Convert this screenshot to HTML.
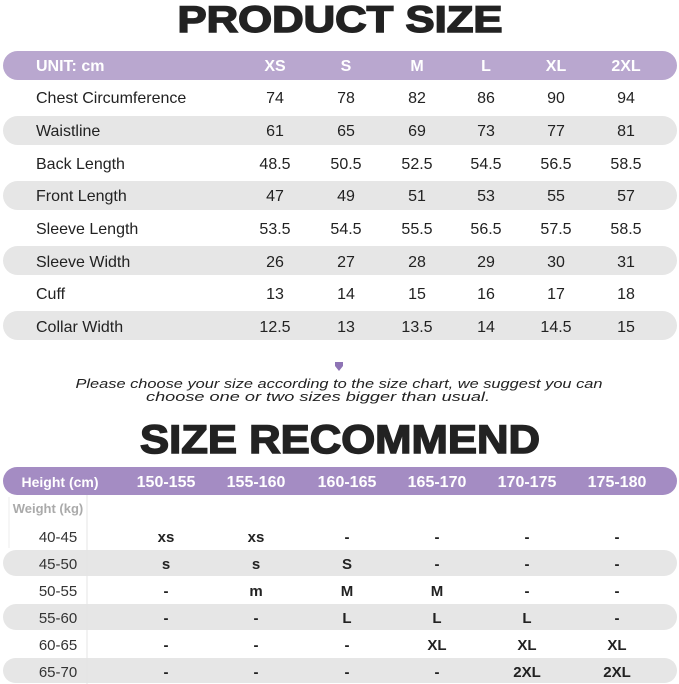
<!DOCTYPE html>
<html><head><style>
html,body{margin:0;padding:0;background:#fff;}
svg{display:block;font-family:"Liberation Sans",sans-serif;}
</style></head><body>
<svg width="679" height="684" viewBox="0 0 679 684" xmlns="http://www.w3.org/2000/svg">
<text x="340" y="32" text-anchor="middle" font-size="37" font-weight="bold" fill="#222" textLength="325" lengthAdjust="spacingAndGlyphs" stroke="#222" stroke-width="1.5">PRODUCT SIZE</text>
<rect x="3" y="51" width="674" height="29" rx="14.5" fill="#b9a7cf"/>
<rect x="3" y="116" width="674" height="29" rx="14.5" fill="#e6e6e6"/>
<rect x="3" y="181" width="674" height="29" rx="14.5" fill="#e6e6e6"/>
<rect x="3" y="246" width="674" height="29" rx="14.5" fill="#e6e6e6"/>
<rect x="3" y="311" width="674" height="29" rx="14.5" fill="#e6e6e6"/>
<g font-size="16" fill="#222">
<g font-weight="bold" fill="#fff"><text x="36" y="71">UNIT: cm</text>
<g text-anchor="middle"><text x="275" y="71">XS</text><text x="346" y="71">S</text><text x="417" y="71">M</text><text x="486" y="71">L</text><text x="556" y="71">XL</text><text x="626" y="71">2XL</text></g></g>
<text x="36" y="103">Chest Circumference</text><text x="36" y="136">Waistline</text><text x="36" y="169">Back Length</text><text x="36" y="201">Front Length</text><text x="36" y="234">Sleeve Length</text><text x="36" y="267">Sleeve Width</text><text x="36" y="299">Cuff</text><text x="36" y="332">Collar Width</text>
<g text-anchor="middle">
<text x="275" y="103">74</text><text x="346" y="103">78</text><text x="417" y="103">82</text><text x="486" y="103">86</text><text x="556" y="103">90</text><text x="626" y="103">94</text>
<text x="275" y="136">61</text><text x="346" y="136">65</text><text x="417" y="136">69</text><text x="486" y="136">73</text><text x="556" y="136">77</text><text x="626" y="136">81</text>
<text x="275" y="169">48.5</text><text x="346" y="169">50.5</text><text x="417" y="169">52.5</text><text x="486" y="169">54.5</text><text x="556" y="169">56.5</text><text x="626" y="169">58.5</text>
<text x="275" y="201">47</text><text x="346" y="201">49</text><text x="417" y="201">51</text><text x="486" y="201">53</text><text x="556" y="201">55</text><text x="626" y="201">57</text>
<text x="275" y="234">53.5</text><text x="346" y="234">54.5</text><text x="417" y="234">55.5</text><text x="486" y="234">56.5</text><text x="556" y="234">57.5</text><text x="626" y="234">58.5</text>
<text x="275" y="267">26</text><text x="346" y="267">27</text><text x="417" y="267">28</text><text x="486" y="267">29</text><text x="556" y="267">30</text><text x="626" y="267">31</text>
<text x="275" y="299">13</text><text x="346" y="299">14</text><text x="417" y="299">15</text><text x="486" y="299">16</text><text x="556" y="299">17</text><text x="626" y="299">18</text>
<text x="275" y="332">12.5</text><text x="346" y="332">13</text><text x="417" y="332">13.5</text><text x="486" y="332">14</text><text x="556" y="332">14.5</text><text x="626" y="332">15</text>
</g></g>
<path d="M335 362 L343 362 L343 366 L339 371 L335 366 Z" fill="#8e74b5"/>
<g font-size="13" font-style="italic" fill="#222" text-anchor="middle">
<text x="339" y="388" textLength="527" lengthAdjust="spacingAndGlyphs">Please choose your size according to the size chart, we suggest you can</text>
<text x="318" y="401" textLength="344" lengthAdjust="spacingAndGlyphs">choose one or two sizes bigger than usual.</text>
</g>
<text x="340" y="453" text-anchor="middle" font-size="40" font-weight="bold" fill="#222" textLength="400" lengthAdjust="spacingAndGlyphs" stroke="#222" stroke-width="1.5">SIZE RECOMMEND</text>
<rect x="3" y="467" width="674" height="28" rx="14" fill="#a48cc3"/>
<rect x="3" y="550" width="674" height="26" rx="13" fill="#e6e6e6"/>
<rect x="3" y="604" width="674" height="26" rx="13" fill="#e6e6e6"/>
<rect x="3" y="658" width="674" height="25" rx="12.5" fill="#e6e6e6"/>
<line x1="87" y1="495" x2="87" y2="684" stroke="#e4e4e4" stroke-width="1"/>
<line x1="9" y1="497" x2="9" y2="548" stroke="#eee" stroke-width="1"/>
<g font-weight="bold" fill="#fff" font-size="16" text-anchor="middle">
<text x="60" y="487" font-size="14">Height (cm)</text>
<text x="166" y="487">150-155</text><text x="256" y="487">155-160</text><text x="347" y="487">160-165</text><text x="437" y="487">165-170</text><text x="527" y="487">170-175</text><text x="617" y="487">175-180</text>
</g>
<text x="48" y="513" font-size="13" font-weight="bold" fill="#aaa" text-anchor="middle">Weight (kg)</text>
<g font-size="15" fill="#333" text-anchor="middle">
<text x="58" y="542">40-45</text><text x="58" y="569">45-50</text><text x="58" y="596">50-55</text><text x="58" y="623">55-60</text><text x="58" y="650">60-65</text><text x="58" y="677">65-70</text>
</g>
<g font-size="15" font-weight="bold" fill="#222" text-anchor="middle">
<text x="166" y="542">xs</text><text x="256" y="542">xs</text><text x="347" y="542">-</text><text x="437" y="542">-</text><text x="527" y="542">-</text><text x="617" y="542">-</text>
<text x="166" y="569">s</text><text x="256" y="569">s</text><text x="347" y="569">S</text><text x="437" y="569">-</text><text x="527" y="569">-</text><text x="617" y="569">-</text>
<text x="166" y="596">-</text><text x="256" y="596">m</text><text x="347" y="596">M</text><text x="437" y="596">M</text><text x="527" y="596">-</text><text x="617" y="596">-</text>
<text x="166" y="623">-</text><text x="256" y="623">-</text><text x="347" y="623">L</text><text x="437" y="623">L</text><text x="527" y="623">L</text><text x="617" y="623">-</text>
<text x="166" y="650">-</text><text x="256" y="650">-</text><text x="347" y="650">-</text><text x="437" y="650">XL</text><text x="527" y="650">XL</text><text x="617" y="650">XL</text>
<text x="166" y="677">-</text><text x="256" y="677">-</text><text x="347" y="677">-</text><text x="437" y="677">-</text><text x="527" y="677">2XL</text><text x="617" y="677">2XL</text>
</g>
</svg>
</body></html>
